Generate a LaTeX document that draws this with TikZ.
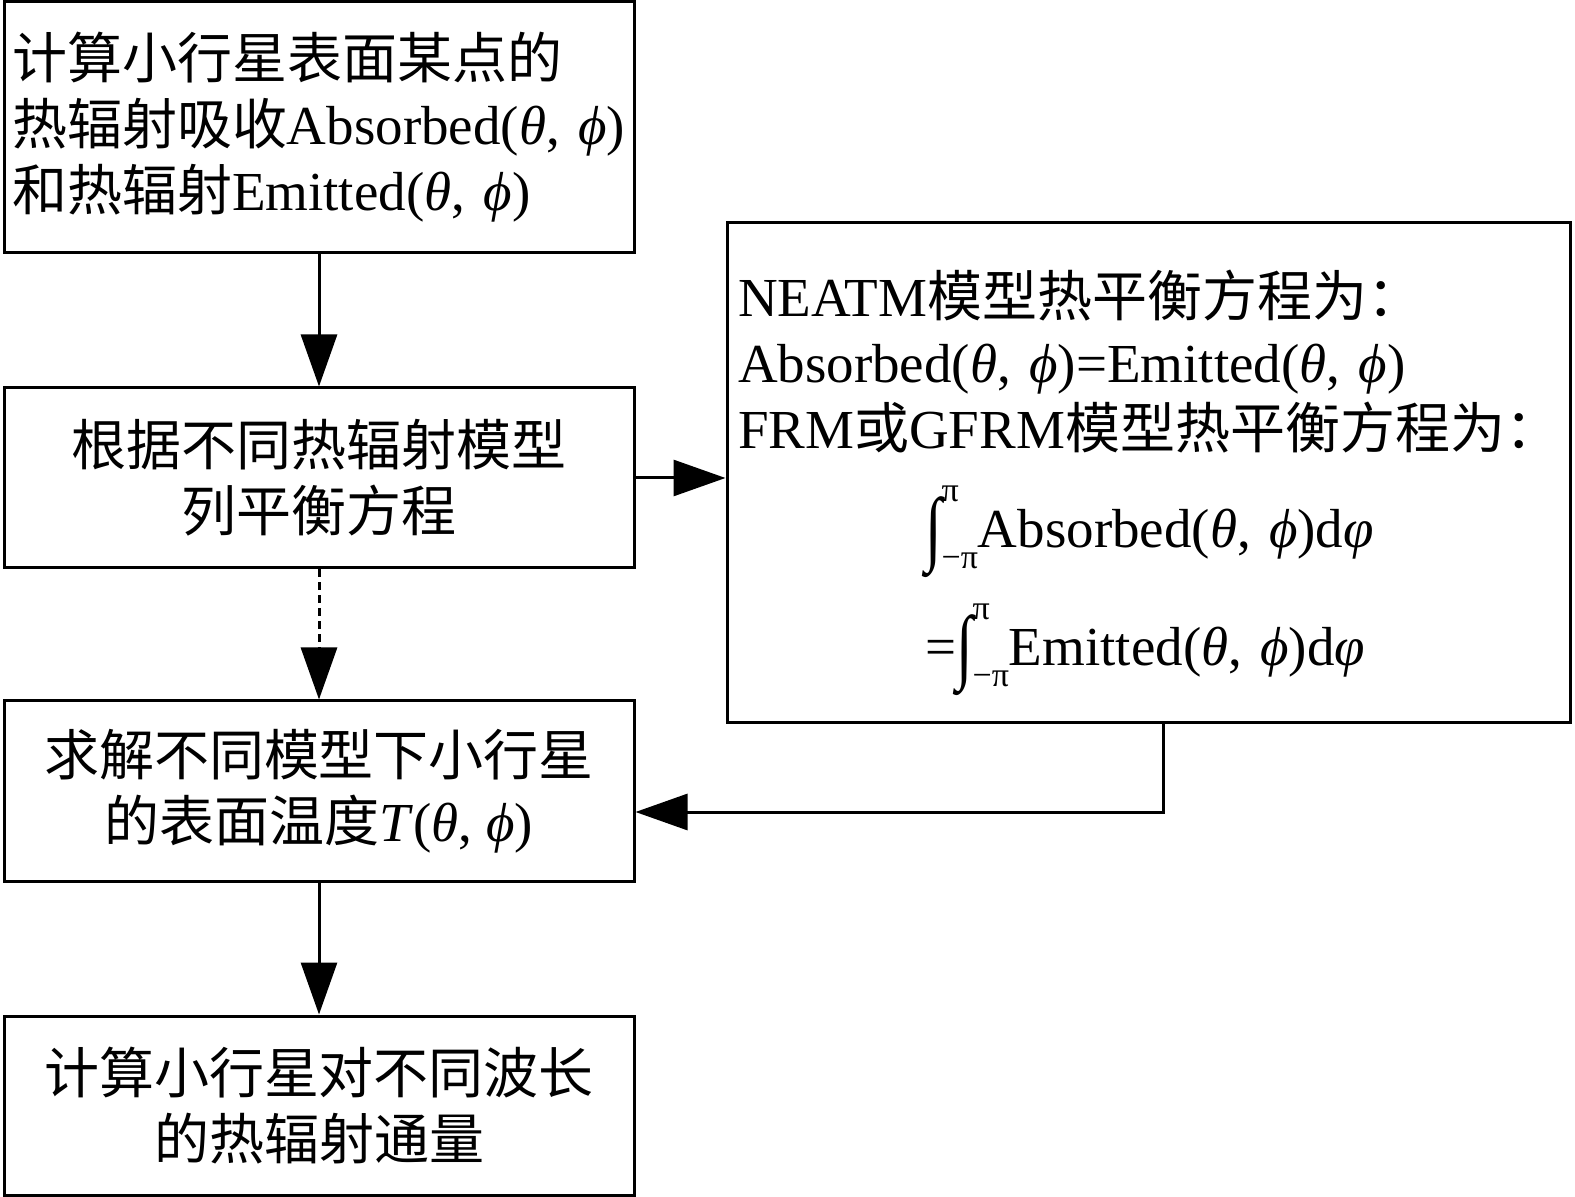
\documentclass[tikz,border=0pt]{standalone}
\usepackage{fontspec}
\usepackage{graphicx}
\setmainfont{Liberation Serif}
\newfontfamily\cjk{Noto Sans CJK SC}
\usetikzlibrary{arrows.meta}
\newcommand\zh[1]{{\cjk #1}}
\newcommand\gth{{\itshape θ}}
\newcommand\gph{{\itshape ϕ}}
\newcommand\gvp{{\itshape φ}}
\newcommand\limsz{\fontsize{17}{17}\selectfont}
\newcommand\myint{\raisebox{-0.14em}{\scalebox{1.1}[1.5]{∫}}\makebox[0pt][l]{\raisebox{0.85em}{\limsz π}}\raisebox{-0.38em}{\limsz −π}}
\begin{document}
\begin{tikzpicture}[x=0.5pt,y=-0.5pt,
  box/.style={draw,line width=1.5pt,inner sep=0pt,font=\fontsize{27.5}{33}\selectfont},
  txt/.style={inner sep=0pt,font=\fontsize{27.5}{33}\selectfont},
  arr/.style={line width=1.5pt,-{Triangle[length=26pt,width=18pt]}},
  dsh/.style={dash pattern=on 4pt off 2.5pt}]
\useasboundingbox (0,0) rectangle (1575,1197);
\node[box,minimum width=315pt,minimum height=125.5pt,inner xsep=4pt,text width=307pt,align=left] (b1) at (319,127.5)
 {\zh{计算小行星表面某点的}\\
  \zh{热辐射吸收}Absorbed(\gth,~\gph)\\
  \zh{和热辐射}Emitted(\gth,~\gph)};
\node[box,minimum width=315pt,minimum height=90pt,align=center] (b2) at (319,478)
 {\zh{根据不同热辐射模型}\\\zh{列平衡方程}};
\node[box,minimum width=315pt,minimum height=90pt,align=center] (b3) at (319,791)
 {\zh{求解不同模型下小行星}\\\zh{的表面温度}\textit{T}(\gth,~\gph)};
\node[box,minimum width=315pt,minimum height=89.5pt,align=center] (b4) at (319,1105.5)
 {\zh{计算小行星对不同波长}\\\zh{的热辐射通量}};
\node[box,minimum width=421.5pt,minimum height=250pt] (rb) at (1148.5,473) {};
\node[txt,text width=410.5pt,align=left] (rbt) at (1148.5,483)
 {NEATM\zh{模型热平衡方程为：}\\
  Absorbed(\gth,~\gph)=Emitted(\gth,~\gph)\\
  FRM\zh{或}GFRM\zh{模型热平衡方程为：}\\[15pt]
  \hspace*{93.5pt}\myint Absorbed(\gth,~\gph)d\gvp\\[12pt]
  \hspace*{93.5pt}=\myint Emitted(\gth,~\gph)d\gvp};
\draw[arr] (b1) -- (b2);
\draw[arr,dsh] (b2) -- (b3);
\draw[arr] (b3) -- (b4);
\draw[arr] (b2.east) -- (b2.east -| rb.west);
\coordinate (fb) at (1163,812);
\draw[arr] (rb.south -| fb) |- (b3.east |- fb);
\end{tikzpicture}
\end{document}
